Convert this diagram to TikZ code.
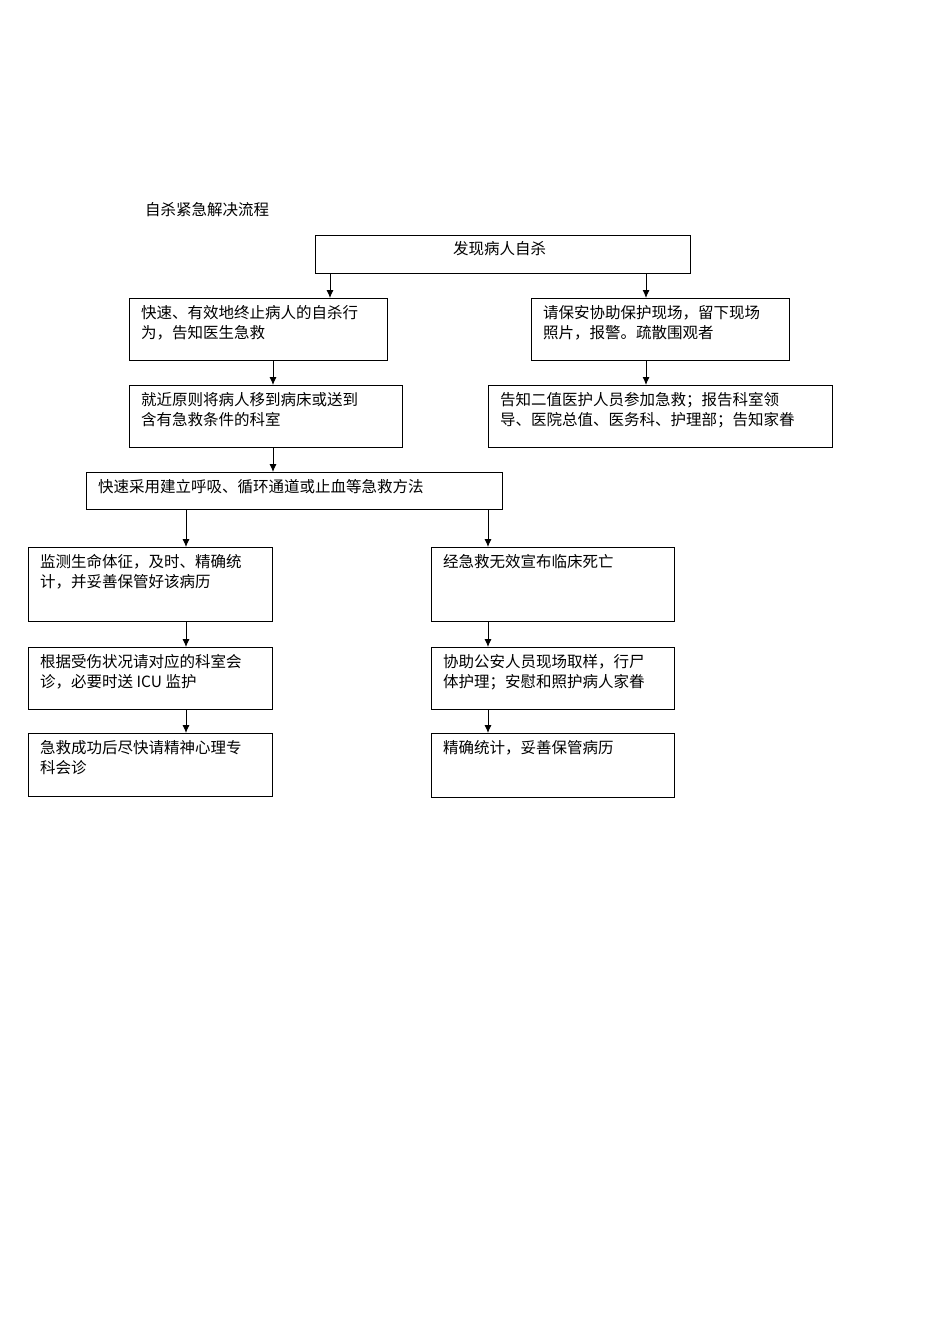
\documentclass[tikz,border=0pt]{standalone}
\usepackage{fontspec}
\setmainfont{Noto Sans CJK SC}
\usetikzlibrary{arrows.meta}
\begin{document}
\begin{tikzpicture}[x=1pt,y=-1pt,
 box/.style={draw,line width=0.9pt,anchor=north west,inner sep=0pt},
 txt/.style={anchor=north west,align=left,inner sep=0pt,font=\fontsize{15.5}{20}\selectfont},
 arr/.style={line width=0.9pt,-{Latex[length=8pt,width=7pt]}}]
\useasboundingbox (0,0) rectangle (950,1344);
\node[txt] (title) at (145,202) {自杀紧急解决流程};
\newcommand\bx[5]{\node[box,minimum width=#4-#2,minimum height=#5-#3] (#1) at (#2,#3) {};}
\bx{b0}{315}{235}{690}{273}
\bx{b1}{129}{298}{387}{360}
\bx{b2}{531}{298}{789}{360}
\bx{b3}{129}{385}{402}{447}
\bx{b4}{488}{385}{832}{447}
\bx{b5}{86}{472}{502}{509}
\bx{b6}{28}{547}{272}{621}
\bx{b7}{431}{547}{674}{621}
\bx{b8}{28}{647}{272}{709}
\bx{b9}{431}{647}{674}{709}
\bx{b10}{28}{733}{272}{796}
\bx{b11}{431}{733}{674}{797}
\node[txt] (t0) at (453,241) {发现病人自杀};
\node[txt] (t1) at (141,305) {快速、有效地终止病人的自杀行\\为，告知医生急救};
\node[txt] (t2) at (543,305) {请保安协助保护现场，留下现场\\照片，报警。疏散围观者};
\node[txt] (t3) at (141,392) {就近原则将病人移到病床或送到\\含有急救条件的科室};
\node[txt] (t4) at (500,392) {告知二值医护人员参加急救；报告科室领\\导、医院总值、医务科、护理部；告知家眷};
\node[txt] (t5) at (98,479) {快速采用建立呼吸、循环通道或止血等急救方法};
\node[txt] (t6) at (40,554) {监测生命体征，及时、精确统\\计，并妥善保管好该病历};
\node[txt] (t7) at (443,554) {经急救无效宣布临床死亡};
\node[txt] (t8) at (40,654) {根据受伤状况请对应的科室会\\诊，必要时送 ICU 监护};
\node[txt] (t9) at (443,654) {协助公安人员现场取样，行尸\\体护理；安慰和照护病人家眷};
\node[txt] (t10) at (40,740) {急救成功后尽快请精神心理专\\科会诊};
\node[txt] (t11) at (443,740) {精确统计，妥善保管病历};
\draw[arr] (b0.south west -| 330,0) -- (b1.north west -| 330,0);
\draw[arr] (b0.south west -| 646,0) -- (b2.north west -| 646,0);
\draw[arr] (b1.south west -| 273,0) -- (b3.north west -| 273,0);
\draw[arr] (b2.south west -| 646,0) -- (b4.north west -| 646,0);
\draw[arr] (b3.south west -| 273,0) -- (b5.north west -| 273,0);
\draw[arr] (b5.south west -| 186,0) -- (b6.north west -| 186,0);
\draw[arr] (b5.south west -| 488,0) -- (b7.north west -| 488,0);
\draw[arr] (b6.south west -| 186,0) -- (b8.north west -| 186,0);
\draw[arr] (b8.south west -| 186,0) -- (b10.north west -| 186,0);
\draw[arr] (b7.south west -| 488,0) -- (b9.north west -| 488,0);
\draw[arr] (b9.south west -| 488,0) -- (b11.north west -| 488,0);
\end{tikzpicture}
\end{document}
